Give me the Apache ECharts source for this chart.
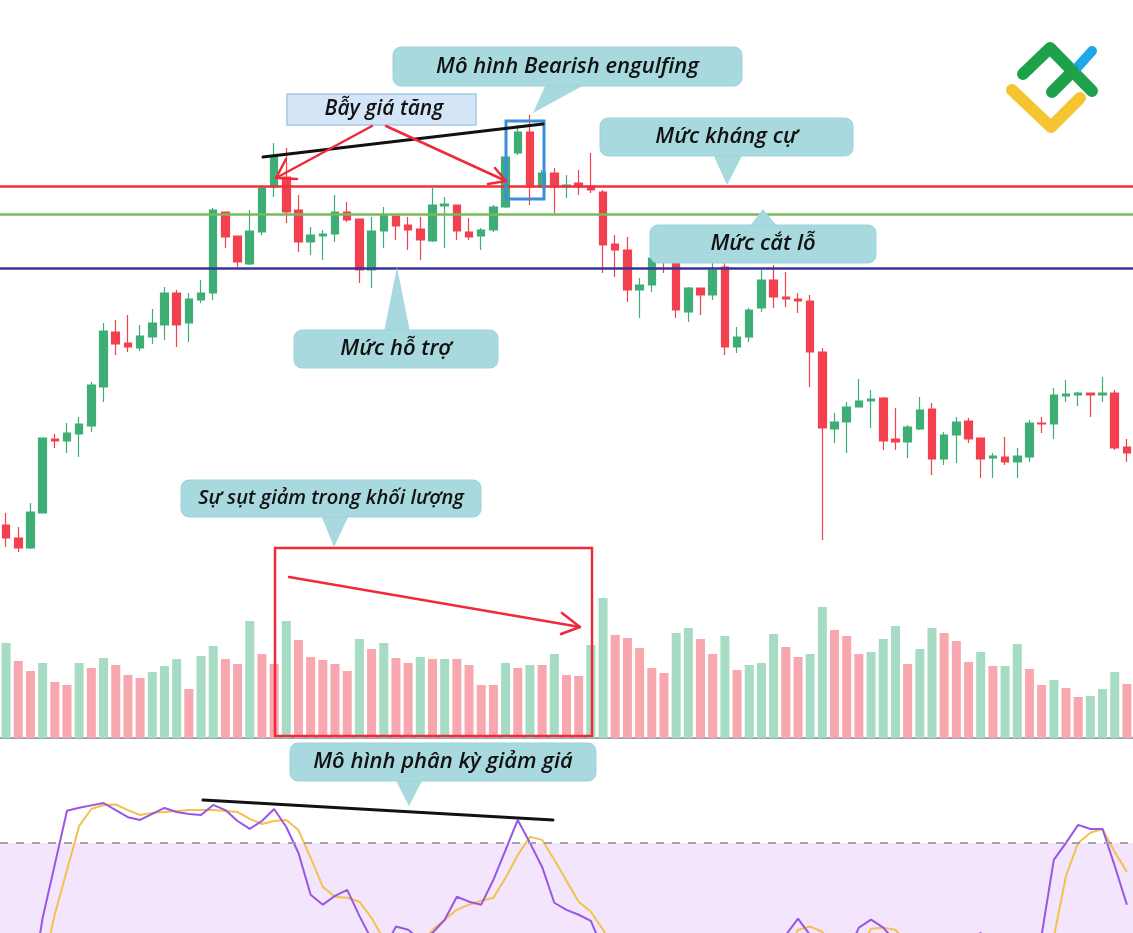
<!DOCTYPE html>
<html>
<head>
<meta charset="utf-8">
<style>
  html, body { margin: 0; padding: 0; background: #fff; }
  #chart { width: 1133px; height: 933px; }
</style>
<script src="https://cdn.jsdelivr.net/npm/echarts/dist/echarts.min.js"></script>
</head>
<body>
<div id="chart"></div>
<script>
// price candles (open, close, low, high)
const openP = [75,62,52,87,161,159,166,174,213,268, 257,252,263,275,307,277,300,307,388,364,
  336,368,413,423,390,358,364,366,388,381, 330,369,384,375,371,359,394,395,368,364,
  370,393,447,468,413,427,413,417,414,408, 356,350,310,315,343,340,288,312,305,333,
  253,263,292,320,303,301,299,248,171,178, 193,199,202,161,158,171,191,141,165,179,
  162,142,143,138,143,177,176,204,205,207, 205,207,153]
const closeP = [62,52,88,162,159,167,176,215,269,256, 253,264,277,307,275,301,307,390,363,338,
  369,412,443,388,358,365,366,388,380,330, 369,385,374,370,360,395,396,369,363,370,
  393,443,468,413,427,413,415,413,410,355, 350,310,315,342,340,290,312,305,330,253,
  263,290,320,303,301,299,248,172,178,193, 199,201,159,158,173,190,141,165,178,161,
  141,144,138,144,177,176,205,206,207,205, 207,152,147]
const lowP = [53,48,51,87,152,147,143,168,198,245, 248,249,256,260,253,258,297,300,352,333,
  335,365,403,377,348,345,340,358,378,317, 312,352,360,350,340,358,352,360,360,350,
  368,392,445,395,412,387,402,405,407,327, 323,298,282,308,327,282,278,285,300,245,
  247,258,288,292,293,287,213,60,157,147, 193,172,150,150,142,170,125,135,137,157,
  122,122,135,122,138,167,161,198,194,183, 198,150,138]
const highP = [87,73,97,162,166,177,183,218,277,280, 285,275,291,313,310,307,320,392,388,364,
  390,413,457,452,405,373,370,405,398,381, 383,393,384,383,383,412,403,395,382,372,
  395,445,475,485,430,432,425,430,447,410, 365,363,322,343,345,342,313,312,337,337,
  273,292,330,335,328,307,305,252,187,198, 221,210,203,192,175,203,197,168,183,182,
  162,147,163,152,180,183,212,220,208,207, 223,210,161]

// volume and its colour flag (1 = up)
const volume = [95,77,67,75,56,53,75,70,80,73, 63,60,66,72,79,49,82,92,79,74,
  117,84,74,117,98,81,78,74,67,99, 89,95,80,75,81,79,79,79,73,53,
  53,75,70,73,73,84,63,62,93,140, 103,100,90,70,65,105,110,99,84,102,
  68,73,75,104,91,81,84,131,108,102, 84,86,99,112,74,89,110,105,97,76,
  86,72,72,94,69,53,58,50,41,42, 49,66,54]
const volUp = [1,0,0,1,0,0,1,0,1,0, 0,0,1,1,1,0,1,1,0,0, 1,0,0,1,0,0,0,0,0,1,
  0,1,0,0,1,0,1,0,0,0, 0,1,0,1,0,1,0,0,1,1, 0,0,0,0,0,1,1,0,0,1,
  0,1,1,1,0,0,1,1,0,0, 0,1,1,1,0,1,1,0,0,0, 1,0,1,1,0,0,1,0,0,1, 1,1,0]

// stochastic %K and %D
const stochK = [10,12,10,45,70,95,96.4,97.5,98.6,95.3, 92,90.7,93.5,96.3,94.4,93.5,93,97.7,95.3,90.2,
  86.5,90.2,95.8,87.4,75.3,55.8,51.2,55.3,58.1,46, 35,30,41,39.5,35,38,44.2,54.9,52.6,51.2,
  62.8,76.7,90.7,80,68.8,52.1,48.8,46.5,43.7,30, 20,15,12,10,12,15,18,15,12,10,
  8,10,18,28,37,44.7,37,25,20,28, 40.5,44.2,40.5,34,25,20,18,22,28,35,
  38,30,25,28,33,37,72.1,80,88.4,86.5, 86.5,69.3,51.2]
const stochD = [12,10,15,22,46.7,67.4,87.9,95.8,97.7,97.9, 95.3,93,94,94.4,94.9,95.3,95.3,95.3,94.9,94.4,
  91.2,88.8,90.2,90.7,86,73,59.5,54.9,54.4,52.6, 45,35,30,28,32,39.5,44.2,48.8,51.2,53,
  54.4,63.7,74.4,82.8,81.4,72.1,62.3,52.6,47.9,39.5, 30,22,16,12,11,13,15,16,14,12,
  10,10,13,20,28,39.5,41,38.6,30,28, 30,40,40.5,39.5,33,27,22,20,22,26,
  30,30,28,27,28,30,36,64.7,80,84.7, 86.5,75.8,66.5]

// key levels
const resistance = 414
const stopLoss = 386
const support = 332

const cats = openP.map((_, i) => i)
const candles = openP.map((o, i) => [o, closeP[i], lowP[i], highP[i]])
const volData = volume.map((v, i) => ({
  value: v,
  itemStyle: { color: volUp[i] ? '#A6DCC3' : '#F9A7AF' }
}))

const FONT = '"Open Sans", "Noto Sans", sans-serif'
const TEAL = '#A7D9DE'

function label(text, x, y, size) {
  return {
    type: 'text', z: 110,
    style: {
      text, x, y, fill: '#111',
      font: 'italic 600 ' + size + 'px ' + FONT,
      textAlign: 'center', textVerticalAlign: 'middle',
      align: 'center', verticalAlign: 'middle'
    }
  }
}

function callout(x, y, w, h, tri, text, size) {
  return [
    { type: 'polygon', z: 100, shape: { points: tri }, style: { fill: TEAL } },
    { type: 'rect', z: 101, shape: { x, y, width: w, height: h, r: 8 },
      style: { fill: TEAL, stroke: '#9CD3D9', lineWidth: 1 } },
    label(text, x + w / 2, y + h / 2, size)
  ]
}

function line(points, color, width) {
  return { type: 'polyline', z: 105, shape: { points },
    style: { stroke: color, lineWidth: width, fill: null, lineCap: 'round', lineJoin: 'round' } }
}

const RED = '#EE2B3B'

const graphics = [].concat(
  callout(393, 47, 349, 39, [[546, 84], [586, 84], [533, 113]], 'Mô hình Bearish engulfing', 22),
  callout(600, 118, 253, 38, [[713, 154], [743, 154], [727, 185]], 'Mức kháng cự', 22),
  callout(650, 225, 226, 38, [[749, 227], [778, 227], [763, 209]], 'Mức cắt lỗ', 22),
  callout(294, 330, 204, 38, [[384, 332], [410, 332], [397, 267]], 'Mức hỗ trợ', 22),
  callout(181, 480, 300, 37, [[321, 515], [349, 515], [334, 547]], 'Sự sụt giảm trong khối lượng', 20),
  callout(290, 743, 306, 38, [[395, 779], [423, 779], [409, 806]], 'Mô hình phân kỳ giảm giá', 22),
  [
    { type: 'rect', z: 101, shape: { x: 287, y: 94, width: 189, height: 31 },
      style: { fill: '#D5E5F8', stroke: '#A6C6EC', lineWidth: 1.5 } },
    label('Bẫy giá tăng', 384, 109, 21),
    // trend lines
    line([[263, 157], [543, 124]], '#111', 3),
    line([[203, 800], [553, 820]], '#111', 3),
    // bull trap arrows
    line([[372, 126], [276, 178]], RED, 2.5),
    line([[286, 159], [276, 178], [297, 179]], RED, 2.5),
    line([[386, 126], [506, 181]], RED, 2.5),
    line([[495, 168], [506, 181], [488, 184]], RED, 2.5),
    // volume box + arrow
    { type: 'rect', z: 104, shape: { x: 275, y: 548, width: 317, height: 188 },
      style: { fill: null, stroke: RED, lineWidth: 2.5 } },
    line([[289, 577], [580, 627]], RED, 2.5),
    line([[562, 613], [580, 627], [561, 634]], RED, 2.5),
    // engulfing box
    { type: 'rect', z: 104, shape: { x: 506, y: 121, width: 38, height: 78 },
      style: { fill: null, stroke: '#3A8FD9', lineWidth: 3 } },
    // logo
    line([[1012, 90], [1051, 127], [1080, 98]], '#F5C431', 12),
    line([[1023, 74], [1050, 48], [1092, 91]], '#1DA14B', 12),
    line([[1075, 70], [1092, 51]], '#1FA8E8', 10),
    line([[1052, 92], [1073, 71]], '#1DA14B', 12)
  ]
)

const chart = echarts.init(document.getElementById('chart'))

chart.setOption({
  animation: false,
  backgroundColor: '#fff',
  grid: [
    { left: 0, right: 0, top: 0, height: 600 },
    { left: 0, right: 0, top: 590, height: 148 },
    { left: 0, right: 0, top: 800, height: 133 }
  ],
  xAxis: [
    { type: 'category', data: cats, gridIndex: 0, show: false },
    { type: 'category', data: cats, gridIndex: 1, axisTick: { show: false }, axisLabel: { show: false },
      axisLine: { lineStyle: { color: '#9FA7B2', width: 2 } } },
    { type: 'category', data: cats, gridIndex: 2, show: false }
  ],
  yAxis: [
    { type: 'value', gridIndex: 0, min: 0, max: 600, show: false },
    { type: 'value', gridIndex: 1, min: 0, max: 148, show: false },
    { type: 'value', gridIndex: 2, min: 38, max: 100, show: false }
  ],
  series: [
    {
      type: 'candlestick', xAxisIndex: 0, yAxisIndex: 0, barWidth: 8,
      data: candles,
      itemStyle: { color: '#3FAE76', color0: '#F3404F', borderColor: '#3FAE76', borderColor0: '#F3404F', borderWidth: 1.2 },
      markLine: {
        silent: true, symbol: 'none', label: { show: false },
        data: [
          { yAxis: resistance, lineStyle: { color: '#F0303E', width: 2.5, type: 'solid' } },
          { yAxis: stopLoss, lineStyle: { color: '#79B85C', width: 2.5, type: 'solid' } },
          { yAxis: support, lineStyle: { color: '#3A3593', width: 2.5, type: 'solid' } }
        ]
      }
    },
    {
      type: 'bar', xAxisIndex: 1, yAxisIndex: 1, barWidth: 9, data: volData
    },
    {
      type: 'line', xAxisIndex: 2, yAxisIndex: 2, data: [], z: 1,
      markArea: { silent: true, itemStyle: { color: '#F3E6FC' }, data: [[{ yAxis: 20 }, { yAxis: 80 }]] },
      markLine: {
        silent: true, symbol: 'none', label: { show: false },
        lineStyle: { color: '#A4A2AC', width: 2, type: [8, 8] },
        data: [{ yAxis: 80 }]
      }
    },
    {
      type: 'line', xAxisIndex: 2, yAxisIndex: 2, data: stochD, z: 3,
      symbol: 'none', lineStyle: { color: '#F3C14D', width: 2 }
    },
    {
      type: 'line', xAxisIndex: 2, yAxisIndex: 2, data: stochK, z: 4,
      symbol: 'none', lineStyle: { color: '#9A55E2', width: 2 }
    }
  ],
  graphic: graphics
})
</script>
</body>
</html>
